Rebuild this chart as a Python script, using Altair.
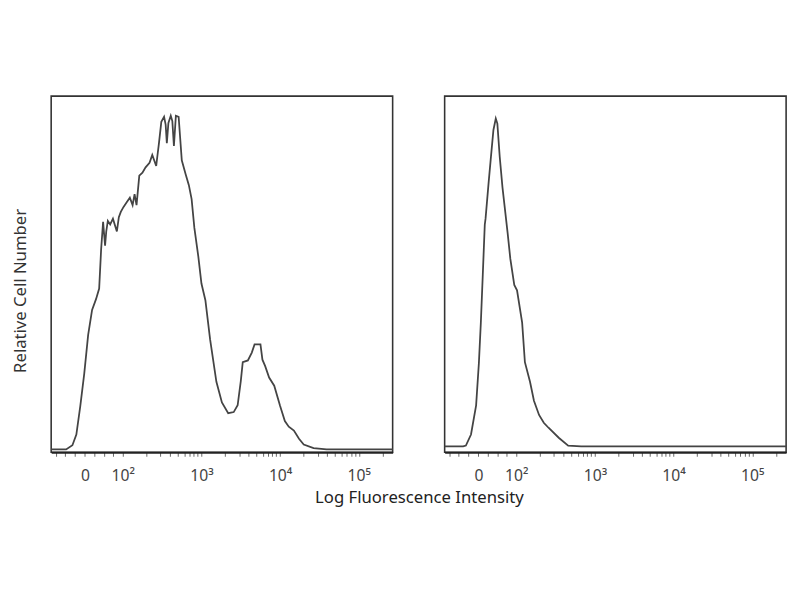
import altair as alt
import pandas as pd

# x is in display units of the biexponential axis (10^k -> k, zero -> 1.52)
left_x = [1.09, 1.28, 1.36, 1.41, 1.46, 1.51, 1.56, 1.61, 1.66, 1.70, 1.725, 1.75, 1.775, 1.79,
          1.81, 1.84, 1.875, 1.925, 1.95, 1.975, 2.01, 2.05, 2.09, 2.125, 2.15, 2.175, 2.21,
          2.25, 2.29, 2.34, 2.375, 2.425, 2.44, 2.46, 2.49, 2.525, 2.545, 2.56, 2.58, 2.61,
          2.63, 2.65, 2.675, 2.71, 2.75, 2.80, 2.84, 2.875, 2.91, 2.96, 3.0, 3.05, 3.11,
          3.19, 3.26, 3.34, 3.41, 3.46, 3.50, 3.525, 3.59, 3.64, 3.675, 3.75, 3.775, 3.81,
          3.86, 3.925, 4.0, 4.06, 4.11, 4.175, 4.24, 4.30, 4.425, 4.59, 5.43]
left_y = [0.8, 0.8, 2.0, 5.0, 13.0, 22.0, 33.0, 40.0, 43.0, 46.0, 57.0, 64.7, 58.0, 62.0,
          65.0, 64.0, 65.6, 62.0, 66.0, 67.5, 68.9, 70.2, 71.5, 69.4, 72.5, 69.4, 77.7,
          78.5, 80.0, 81.3, 83.5, 80.4, 83.2, 86.8, 92.8, 94.2, 92.0, 86.8, 92.5, 94.5,
          93.0, 86.0, 94.5, 94.2, 82.0, 78.0, 75.0, 71.1, 63.0, 55.0, 47.4, 42.7, 31.7,
          19.8, 14.0, 11.0, 11.3, 13.2, 20.0, 25.3, 25.8, 28.0, 30.3, 30.3, 26.0, 24.2,
          21.0, 18.7, 13.0, 8.8, 7.2, 6.1, 3.8, 2.2, 1.2, 0.8, 0.8]

right_x = [1.09, 1.325, 1.36, 1.425, 1.49, 1.525, 1.55, 1.575, 1.60, 1.61, 1.65, 1.675, 1.71,
           1.74, 1.76, 1.79, 1.825, 1.89, 1.925, 1.975, 2.01, 2.075, 2.11, 2.175, 2.225, 2.29,
           2.35, 2.41, 2.54, 2.66, 2.825, 5.43]
right_y = [1.7, 1.7, 1.9, 5.0, 13.2, 25.0, 36.4, 50.0, 63.9, 65.6, 76.0, 82.1, 90.5,
           93.7, 92.3, 83.0, 74.4, 61.7, 54.3, 47.0, 45.5, 36.4, 25.3, 19.8, 14.5, 10.5,
           8.3, 6.9, 4.1, 1.9, 1.7, 1.7]

major_ticks = [1.52, 2, 3, 4, 5]
major_labels = ["0", "10²", "10³", "10⁴", "10⁵"]
minor_ticks = [1.15, 1.27, 1.39, 1.64, 1.76, 1.88,
               2.3, 2.48, 2.6, 2.7, 2.78, 2.85, 2.9, 2.95,
               3.3, 3.48, 3.6, 3.7, 3.78, 3.85, 3.9, 3.95,
               4.3, 4.48, 4.6, 4.7, 4.78, 4.85, 4.9, 4.95, 5.3]

label_expr = (
    "indexof(" + str(major_ticks) + ", datum.value) >= 0 ? "
    + str(major_labels).replace("'", '"') + "[indexof(" + str(major_ticks) + ", datum.value)] : ''"
)

x_axis = alt.Axis(
    values=sorted(major_ticks + minor_ticks), labelExpr=label_expr, title=None,
    grid=False, domain=True, domainColor="#222", domainWidth=2,
    ticks=True, tickSize=4, tickColor="#666", tickWidth=1,
    labelPadding=12, labelFontSize=16, labelFont="Noto Sans", labelColor="#444",
    labelOverlap=False, labelFlush=False,
)

x_scale = alt.Scale(domain=[1.09, 5.43], nice=False, zero=False)
y_scale = alt.Scale(domain=[0, 100], nice=False)


def panel(xs, ys, y_axis):
    df = pd.DataFrame({"pos": xs, "count": ys})
    return alt.Chart(df).mark_line(color="#444", strokeWidth=1.8, interpolate="linear").encode(
        x=alt.X("pos:Q", scale=x_scale, axis=x_axis),
        y=alt.Y("count:Q", scale=y_scale, axis=y_axis),
    ).properties(width=348, height=363)


left_axis = alt.Axis(
    title="Relative Cell Number", ticks=False, labels=False, domain=False, grid=False,
    titleFont="Noto Sans", titleFontSize=17, titleFontWeight="normal", titleColor="#333",
    titlePadding=22, titleY=198, titleAlign="center",
)

chart = alt.hconcat(
    panel(left_x, left_y, left_axis),
    panel(right_x, right_y, None),
    spacing=43,
).properties(
    title=alt.TitleParams(
        "Log Fluorescence Intensity", orient="bottom", anchor="middle", dx=19, offset=6,
        font="Noto Sans", fontSize=17, fontWeight="normal", color="#222",
    ),
    padding={"left": 3, "top": 84, "right": 1, "bottom": 2},
).configure_view(stroke="#333", strokeWidth=1.6)

chart.save("out.html", embed_options={"renderer": "svg", "actions": False})
